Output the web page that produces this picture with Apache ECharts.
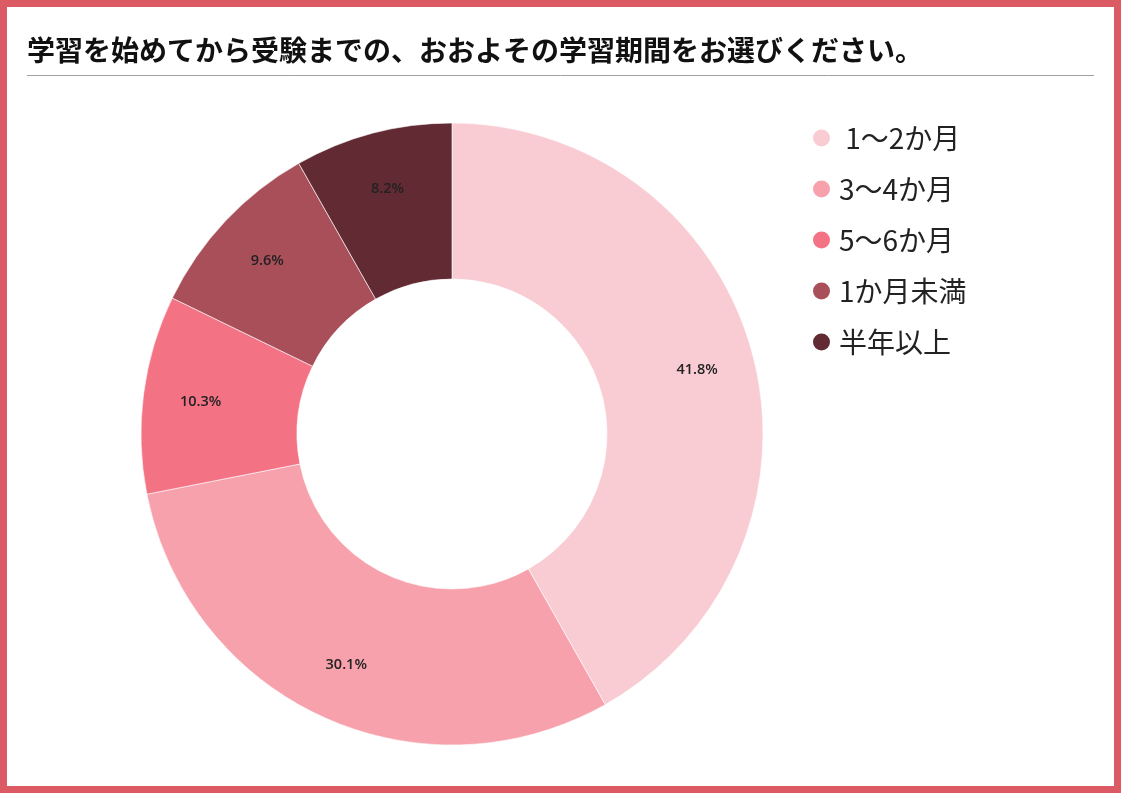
<!DOCTYPE html>
<html>
<head>
<meta charset="utf-8">
<script src="https://cdn.jsdelivr.net/npm/echarts@6/dist/echarts.min.js"></script>
<style>
  html, body { margin: 0; padding: 0; background: #fff; }
  #mycontainer { width: 1121px; height: 793px; }
</style>
</head>
<body>
<div id="mycontainer"></div>
<script>
var titleText = '学習を始めてから受験までの、おおよその学習期間をお選びください。';
var categories = [' 1～2か月', '3～4か月', '5～6か月', '1か月未満', '半年以上'];
var values = [41.8, 30.1, 10.3, 9.6, 8.2];
var colors = ['#F9CCD3', '#F7A1AC', '#F37385', '#A84F5A', '#622A32'];

var dom = document.getElementById('mycontainer');
var chart = echarts.init(dom, null, { renderer: 'canvas' });

var pieData = categories.map(function (name, i) {
    return { name: name, value: values[i] };
});

var option = {
    animation: false,
    color: colors,
    title: {
        text: titleText,
        left: 22,
        top: 31,
        textStyle: {
            fontFamily: 'Noto Sans CJK JP',
            fontSize: 28,
            fontWeight: 'bold',
            color: '#111'
        }
    },
    graphic: [
        // 外枠
        {
            type: 'rect',
            shape: { x: 3.5, y: 3.5, width: 1114, height: 786 },
            style: { fill: 'none', stroke: '#DC5A64', lineWidth: 7 }
        },
        // タイトル下の線
        {
            type: 'line',
            shape: { x1: 27, y1: 75.5, x2: 1094, y2: 75.5 },
            style: { stroke: '#a0a0a0', lineWidth: 1 }
        }
    ],
    legend: {
        orient: 'vertical',
        left: 806,
        top: 119,
        icon: 'circle',
        itemWidth: 19,
        itemHeight: 19,
        itemGap: 23,
        textStyle: {
            fontFamily: 'Noto Sans CJK JP',
            fontSize: 28,
            color: '#222',
            padding: [0, 0, 0, 3]
        },
        data: categories
    },
    series: [
        {
            type: 'pie',
            center: [452, 434],
            radius: [155, 311],
            startAngle: 90,
            clockwise: true,
            avoidLabelOverlap: false,
            itemStyle: { borderColor: '#fff', borderWidth: 0.6 },
            label: { show: false },
            labelLine: { show: false },
            data: pieData
        },
        // ラベル用（透明）
        {
            type: 'pie',
            center: [452, 434],
            radius: [190, 311],
            startAngle: 90,
            clockwise: true,
            silent: true,
            avoidLabelOverlap: false,
            itemStyle: { color: 'rgba(0,0,0,0)' },
            label: {
                show: true,
                position: 'inside',
                formatter: '{c}%',
                fontFamily: 'Open Sans',
                fontSize: 14.5,
                fontWeight: 600,
                color: '#222'
            },
            labelLine: { show: false },
            data: pieData
        }
    ]
};

chart.setOption(option);
</script>
</body>
</html>
